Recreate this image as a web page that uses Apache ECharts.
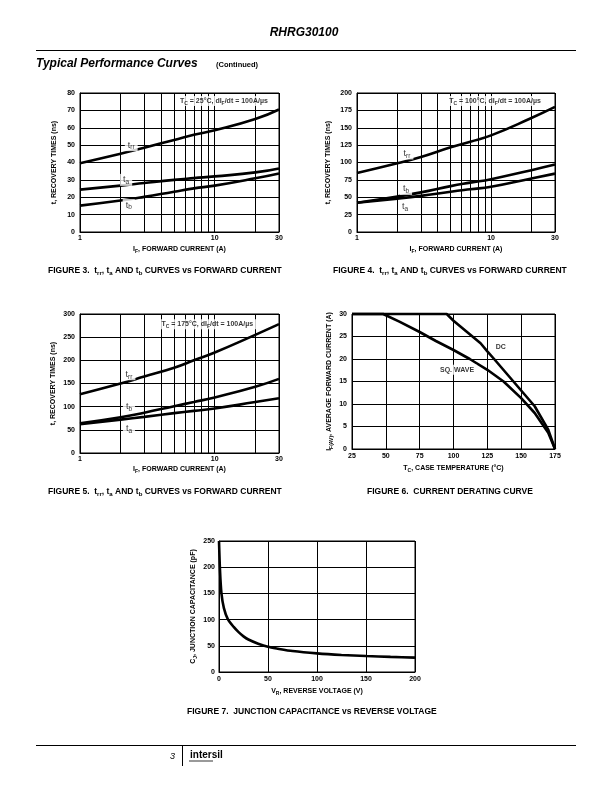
<!DOCTYPE html>
<html><head><meta charset="utf-8">
<script src="https://cdn.jsdelivr.net/npm/echarts@6/dist/echarts.min.js"></script>
<style>html,body{margin:0;padding:0;background:#fff}#c{width:612px;height:792px}</style>
</head><body><div id="c"></div>
<script>
// ---------- DATA ----------
const forwardCurrentA = [1, 2, 3, 5, 7, 10, 20, 30];
const fig3Trr = [39.6, 45, 48.5, 53, 56, 58.5, 65, 70.5];
const fig3Ta  = [24.4, 26.7, 28.2, 30, 31, 32, 34.3, 36.6];
const fig3Tb  = [15.2, 18.1, 20.2, 23.2, 25.1, 26.7, 30.9, 33.7];
const fig4Trr = [85, 99, 108, 122, 130, 139, 164, 180];
const fig4Tb  = [42, 51, 57, 66, 71, 76, 89, 97];
const fig4Ta  = [42, 48, 52, 58, 61.5, 65, 77, 84];
const fig5Trr = [127, 150, 165, 184, 200, 217, 255, 278];
const fig5Tb  = [64, 77, 87, 101, 110, 120, 143, 160];
const fig5Ta  = [62, 72, 78, 86, 91, 96, 110, 118];
const logMinorGridValues = [2, 3, 4, 5, 6, 7, 8, 9, 20];

const fig6TempDC   = [25, 95, 100, 110, 120, 125, 130, 140, 150, 160, 170, 175];
const fig6AmpsDC   = [30, 30, 28.5, 26, 23.5, 21.7, 20, 16.5, 13, 9.5, 4.3, 0];
const fig6TempSq   = [25, 48, 60, 75, 87, 100, 112, 125, 137, 150, 160, 170, 175];
const fig6AmpsSq   = [30, 30, 28.3, 26, 24, 22, 20, 17.6, 15, 11.3, 8, 3.6, 0];

const fig7VoltageV = [0, 1, 2.5, 5, 9, 15, 20, 25, 30, 40, 50, 60, 75, 100, 125, 150, 175, 200];
const fig7CapPF    = [250, 195, 150, 122, 101, 86, 76, 68, 62, 54, 48, 44.5, 40, 35.5, 32.5, 30.5, 28.8, 27.5];

// Axis ranges / tick steps
const fig3YRange = [0, 80, 10];
const fig4YRange = [0, 200, 25];
const fig5YRange = [0, 300, 50];
const fig6XRange = [25, 175, 25];
const fig6YRange = [0, 30, 5];
const fig7XRange = [0, 200, 50];
const fig7YRange = [0, 250, 50];

// Curve label texts (rich) and their anchor positions in data units
const fig3Labels = [['{t|t}{s|rr}', 2.4, 50], ['{t|t}{s|a}', 2.2, 30], ['{t|t}{s|b}', 2.3, 15.5], ['{b|T}{bs|C}{b| = 25°C, dI}{bs|F}{b|/dt = 100A/µs}', 11.7, 75.4]];
const fig4Labels = [['{t|t}{s|rr}', 2.36, 113], ['{t|t}{s|b}', 2.32, 62], ['{t|t}{s|a}', 2.28, 36], ['{b|T}{bs|C}{b| = 100°C, dI}{bs|F}{b|/dt = 100A/µs}', 10.7, 188.5]];
const fig5Labels = [['{t|t}{s|rr}', 2.31, 170], ['{t|t}{s|b}', 2.31, 100], ['{t|t}{s|a}', 2.31, 52], ['{b|T}{bs|C}{b| = 175°C, dI}{bs|F}{b|/dt = 100A/µs}', 8.8, 278]];
const fig6Labels = [['{b|DC}', 135, 22.7], ['{b|SQ. WAVE}', 102.6, 17.6]];

// ---------- STYLE ----------
const FONT = "'Liberation Sans', Arial, Helvetica, sans-serif";
const NARROW = "'Liberation Sans Narrow', 'Liberation Sans', Arial, sans-serif";
const BLACK = '#000';
const rich = {
  t:  {fontSize: 9, fontFamily: FONT, color: BLACK, lineHeight: 12},
  s:  {fontSize: 6.5, fontFamily: FONT, color: BLACK, lineHeight: 6, verticalAlign: 'bottom'},
  b:  {fontSize: 7, fontWeight: 'bold', fontFamily: FONT, color: BLACK, lineHeight: 10},
  bs: {fontSize: 5, fontWeight: 'bold', fontFamily: FONT, color: BLACK, lineHeight: 5, verticalAlign: 'bottom'}
};
const nameRich = {
  m:  {fontSize: 7, fontWeight: 'bold', fontFamily: FONT, color: BLACK, lineHeight: 10},
  s:  {fontSize: 5, fontWeight: 'bold', fontFamily: FONT, color: BLACK, lineHeight: 5, verticalAlign: 'bottom'}
};
const capRich = {
  c:  {fontSize: 8.5, fontWeight: 'bold', fontFamily: NARROW, fill: BLACK, color: BLACK, lineHeight: 11},
  cs: {fontSize: 6, fontWeight: 'bold', fontFamily: NARROW, fill: BLACK, color: BLACK, lineHeight: 6, verticalAlign: 'bottom'}
};

const grids = [
  {left: 80,  top: 93,  width: 199, height: 139},
  {left: 357, top: 93,  width: 198, height: 139},
  {left: 80,  top: 314, width: 199, height: 139},
  {left: 352, top: 314, width: 203, height: 135},
  {left: 219, top: 541, width: 196, height: 131}
].map(g => Object.assign(g, {show: true, borderColor: BLACK, borderWidth: 1, backgroundColor: 'transparent'}));

const axisCommon = {
  nameLocation: 'middle',
  nameTextStyle: {rich: nameRich},
  axisLine: {show: true, lineStyle: {color: BLACK, width: 1}},
  axisTick: {show: false},
  axisLabel: {color: BLACK, fontSize: 7, fontWeight: 'bold', fontFamily: FONT},
  splitLine: {show: true, lineStyle: {color: BLACK, width: 1}}
};
function logX(gi, gap) {
  return Object.assign({}, axisCommon, {
    type: 'log', logBase: 10, gridIndex: gi, min: 1, max: 30,
    name: '{m|I}{s|F}{m|, FORWARD CURRENT (A)}', nameGap: gap,
    axisLabel: Object.assign({}, axisCommon.axisLabel, {margin: 3, showMinLabel: true, showMaxLabel: true})
  });
}
function valAxis(gi, range, name, gap, margin) {
  return Object.assign({}, axisCommon, {
    type: 'value', gridIndex: gi, min: range[0], max: range[1], interval: range[2],
    name: name, nameGap: gap,
    axisLabel: Object.assign({}, axisCommon.axisLabel, {margin: margin})
  });
}
const recName = '{m|t, RECOVERY TIMES (ns)}';
const xAxis = [
  logX(0, 12), logX(1, 12), logX(2, 11),
  valAxis(3, fig6XRange, '{m|T}{s|C}{m|, CASE TEMPERATURE (°C)}', 14, 4),
  valAxis(4, fig7XRange, '{m|V}{s|R}{m|, REVERSE VOLTAGE (V)}', 14, 4)
];
const yAxis = [
  valAxis(0, fig3YRange, recName, 21, 5),
  valAxis(1, fig4YRange, recName, 24, 5),
  valAxis(2, fig5YRange, recName, 22, 5),
  valAxis(3, fig6YRange, '{m|I}{s|F(AV)}{m|, AVERAGE FORWARD CURRENT (A)}', 18, 5),
  valAxis(4, fig7YRange, '{m|C}{s|J}{m|, JUNCTION CAPACITANCE (pF)}', 21, 4)
];

function pairs(xs, ys) { return xs.map((x, i) => [x, ys[i]]); }
function curve(gi, xs, ys, smooth) {
  return {type: 'line', xAxisIndex: gi, yAxisIndex: gi, data: pairs(xs, ys), smooth: smooth,
    symbol: 'none', clip: false, z: 3, silent: true,
    lineStyle: {color: BLACK, width: 2.6}};
}
function minorGrid(gi) {
  return {type: 'line', xAxisIndex: gi, yAxisIndex: gi, data: [], z: 1, silent: true,
    markLine: {z: 1, silent: true, animation: false, symbol: ['none', 'none'], label: {show: false},
      lineStyle: {color: BLACK, width: 1, type: 'solid'},
      data: logMinorGridValues.map(v => ({xAxis: v}))}};
}
function labels(gi, items) {
  return {type: 'scatter', xAxisIndex: gi, yAxisIndex: gi, z: 10, silent: true, symbolSize: 1,
    itemStyle: {color: 'rgba(0,0,0,0)'},
    label: {show: true, position: 'inside', backgroundColor: '#fff', padding: [0, 3], rich: rich, color: BLACK},
    data: items.map(it => ({value: [it[1], it[2]], label: {formatter: it[0]}}))};
}

const series = [
  minorGrid(0), minorGrid(1), minorGrid(2),
  curve(0, forwardCurrentA, fig3Trr, true), curve(0, forwardCurrentA, fig3Ta, true), curve(0, forwardCurrentA, fig3Tb, true),
  curve(1, forwardCurrentA, fig4Trr, true), curve(1, forwardCurrentA, fig4Tb, true), curve(1, forwardCurrentA, fig4Ta, true),
  curve(2, forwardCurrentA, fig5Trr, true), curve(2, forwardCurrentA, fig5Tb, true), curve(2, forwardCurrentA, fig5Ta, true),
  curve(3, fig6TempDC, fig6AmpsDC, false), curve(3, fig6TempSq, fig6AmpsSq, false),
  curve(4, fig7VoltageV, fig7CapPF, 0.25),
  labels(0, fig3Labels), labels(1, fig4Labels), labels(2, fig5Labels), labels(3, fig6Labels)
];

function caption(x, y, text) {
  return {type: 'text', x: x, y: y, z: 20, silent: true,
    style: {text: text, rich: capRich, fill: BLACK, font: 'bold 8.5px ' + NARROW, align: 'left', verticalAlign: 'middle'}};
}
function hline(x1, x2, y) {
  return {type: 'line', silent: true, shape: {x1: x1, y1: y, x2: x2, y2: y}, style: {stroke: BLACK, lineWidth: 1}};
}
const graphic = [
  {type: 'text', x: 304, y: 33, silent: true, style: {text: 'RHRG30100', fill: BLACK, font: 'italic bold 12px ' + FONT, align: 'center', verticalAlign: 'middle'}},
  hline(36, 576, 50.5),
  {type: 'text', x: 36, y: 64, silent: true, style: {text: 'Typical Performance Curves', fill: BLACK, font: 'italic bold 12px ' + FONT, align: 'left', verticalAlign: 'middle'}},
  {type: 'text', x: 216, y: 65, silent: true, style: {text: '(Continued)', fill: BLACK, font: 'bold 7.5px ' + NARROW, align: 'left', verticalAlign: 'middle'}},
  caption(48, 271, '{c|FIGURE 3.  t}{cs|rr}{c|, t}{cs|a}{c| AND t}{cs|b}{c| CURVES vs FORWARD CURRENT}'),
  caption(333, 271, '{c|FIGURE 4.  t}{cs|rr}{c|, t}{cs|a}{c| AND t}{cs|b}{c| CURVES vs FORWARD CURRENT}'),
  caption(48, 492, '{c|FIGURE 5.  t}{cs|rr}{c|, t}{cs|a}{c| AND t}{cs|b}{c| CURVES vs FORWARD CURRENT}'),
  caption(367, 492, '{c|FIGURE 6.  CURRENT DERATING CURVE}'),
  caption(187, 712, '{c|FIGURE 7.  JUNCTION CAPACITANCE vs REVERSE VOLTAGE}'),
  hline(36, 576, 745.5),
  {type: 'text', x: 175, y: 756, silent: true, style: {text: '3', fill: BLACK, font: 'italic 9px ' + FONT, align: 'right', verticalAlign: 'middle'}},
  {type: 'line', silent: true, shape: {x1: 182.5, y1: 746, x2: 182.5, y2: 766}, style: {stroke: BLACK, lineWidth: 1}},
  {type: 'text', x: 190, y: 755, silent: true, style: {text: 'intersil', fill: BLACK, font: 'bold 10px ' + FONT, align: 'left', verticalAlign: 'middle'}},
  {type: 'line', silent: true, shape: {x1: 189, y1: 761, x2: 213, y2: 761}, style: {stroke: '#555', lineWidth: 1.2}}
];

const chart = echarts.init(document.getElementById('c'), null, {renderer: 'canvas'});
chart.setOption({
  animation: false,
  backgroundColor: '#fff',
  textStyle: {fontFamily: FONT},
  grid: grids, xAxis: xAxis, yAxis: yAxis, series: series, graphic: graphic
});
</script></body></html>
